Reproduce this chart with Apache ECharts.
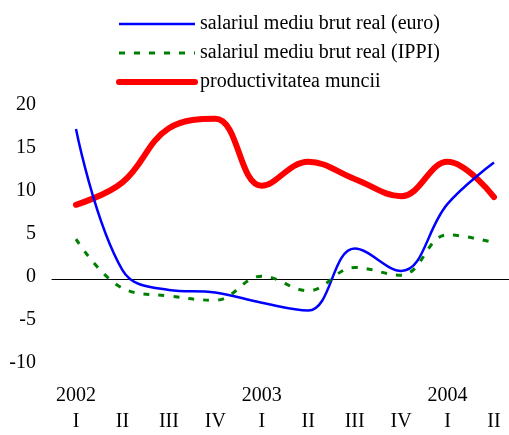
<!DOCTYPE html>
<html>
<head>
<meta charset="utf-8">
<script src="https://cdn.jsdelivr.net/npm/echarts@6/dist/echarts.min.js"></script>
<style>
  html, body { margin: 0; padding: 0; background: #fff; }
  #chart { width: 509px; height: 435px; }
</style>
</head>
<body>
<div id="chart"></div>
<script>
var quarters = ['I', 'II', 'III', 'IV', 'I', 'II', 'III', 'IV', 'I', 'II'];
var years = ['2002', '', '', '', '2003', '', '', '', '2004', ''];

var salEuro = [17.2, 0.8, -1.5, -1.8, -3.0, -3.9, 3.3, 0.7, 8.5, 13.3];
var salIppi = [4.4, -1.3, -2.2, -2.7, 0.1, -1.6, 1.1, 0.2, 4.9, 4.0];
var productivitate = [8.4, 11.0, 17.3, 18.4, 10.6, 13.4, 11.4, 9.4, 13.4, 9.3];

var yTicks = [-10, -5, 0, 5, 10, 15, 20];

var myChart = echarts.init(document.getElementById('chart'));
var font = '"Liberation Serif", "DejaVu Serif", serif';

var option = {
    animation: false,
    backgroundColor: '#fff',
    textStyle: { fontFamily: font },
    legend: {
        orient: 'vertical',
        left: 111,
        top: 8,
        itemWidth: 76,
        itemHeight: 14,
        itemGap: 7,
        itemStyle: { opacity: 0 },
        textStyle: { fontFamily: font, fontSize: 20, lineHeight: 22, color: '#000' },
        data: [
            { name: 'salariul mediu brut real (euro)', lineStyle: { width: 2.5 } },
            { name: 'salariul mediu brut real (IPPI)', lineStyle: { width: 3 } },
            { name: 'productivitatea muncii', lineStyle: { width: 6 } }
        ]
    },
    grid: [
        { left: 76, right: 15, top: 105, bottom: 69 },
        // wider grid, only used to draw the zero line across the full width
        { left: 52, right: 0, top: 105, bottom: 69 }
    ],
    xAxis: [
        {
            type: 'category',
            gridIndex: 0,
            boundaryGap: false,
            data: quarters,
            axisLine: { show: false },
            axisTick: { show: false },
            splitLine: { show: false },
            axisLabel: {
                margin: 20,
                fontFamily: font,
                fontSize: 20,
                color: '#000',
                lineHeight: 26,
                interval: 0,
                formatter: function (v, i) {
                    return years[i] + '\n' + v;
                }
            }
        },
        {
            type: 'category',
            gridIndex: 1,
            data: quarters,
            axisLine: { show: true, onZero: true, lineStyle: { color: '#000', width: 1 } },
            axisTick: { show: false },
            axisLabel: { show: false },
            splitLine: { show: false }
        }
    ],
    yAxis: [
        {
            type: 'value',
            gridIndex: 0,
            min: -10,
            max: 20,
            interval: 5,
            axisLine: { show: false },
            axisTick: { show: false },
            splitLine: { show: false },
            axisLabel: {
                margin: 40,
                fontFamily: font,
                fontSize: 20,
                color: '#000',
                formatter: function (v) {
                    return yTicks.indexOf(v) >= 0 ? String(v) : '';
                }
            }
        },
        {
            type: 'value',
            gridIndex: 1,
            min: -10,
            max: 20,
            show: false,
            splitLine: { show: false }
        }
    ],
    series: [
        {
            name: 'salariul mediu brut real (euro)',
            type: 'line',
            smooth: 0.4,
            symbol: 'none',
            data: salEuro,
            lineStyle: { color: '#0000ff', width: 2.5 },
            itemStyle: { color: '#0000ff' },
            z: 3
        },
        {
            name: 'salariul mediu brut real (IPPI)',
            type: 'line',
            smooth: 0.4,
            symbol: 'none',
            data: salIppi,
            lineStyle: { color: '#008000', width: 3, type: [6, 9] },
            itemStyle: { color: '#008000' },
            z: 3
        },
        {
            name: 'productivitatea muncii',
            type: 'line',
            smooth: 0.4,
            symbol: 'none',
            data: productivitate,
            lineStyle: { color: '#ff0000', width: 6, cap: 'round' },
            itemStyle: { color: '#ff0000' },
            z: 2
        }
    ]
};

myChart.setOption(option);
</script>
</body>
</html>
